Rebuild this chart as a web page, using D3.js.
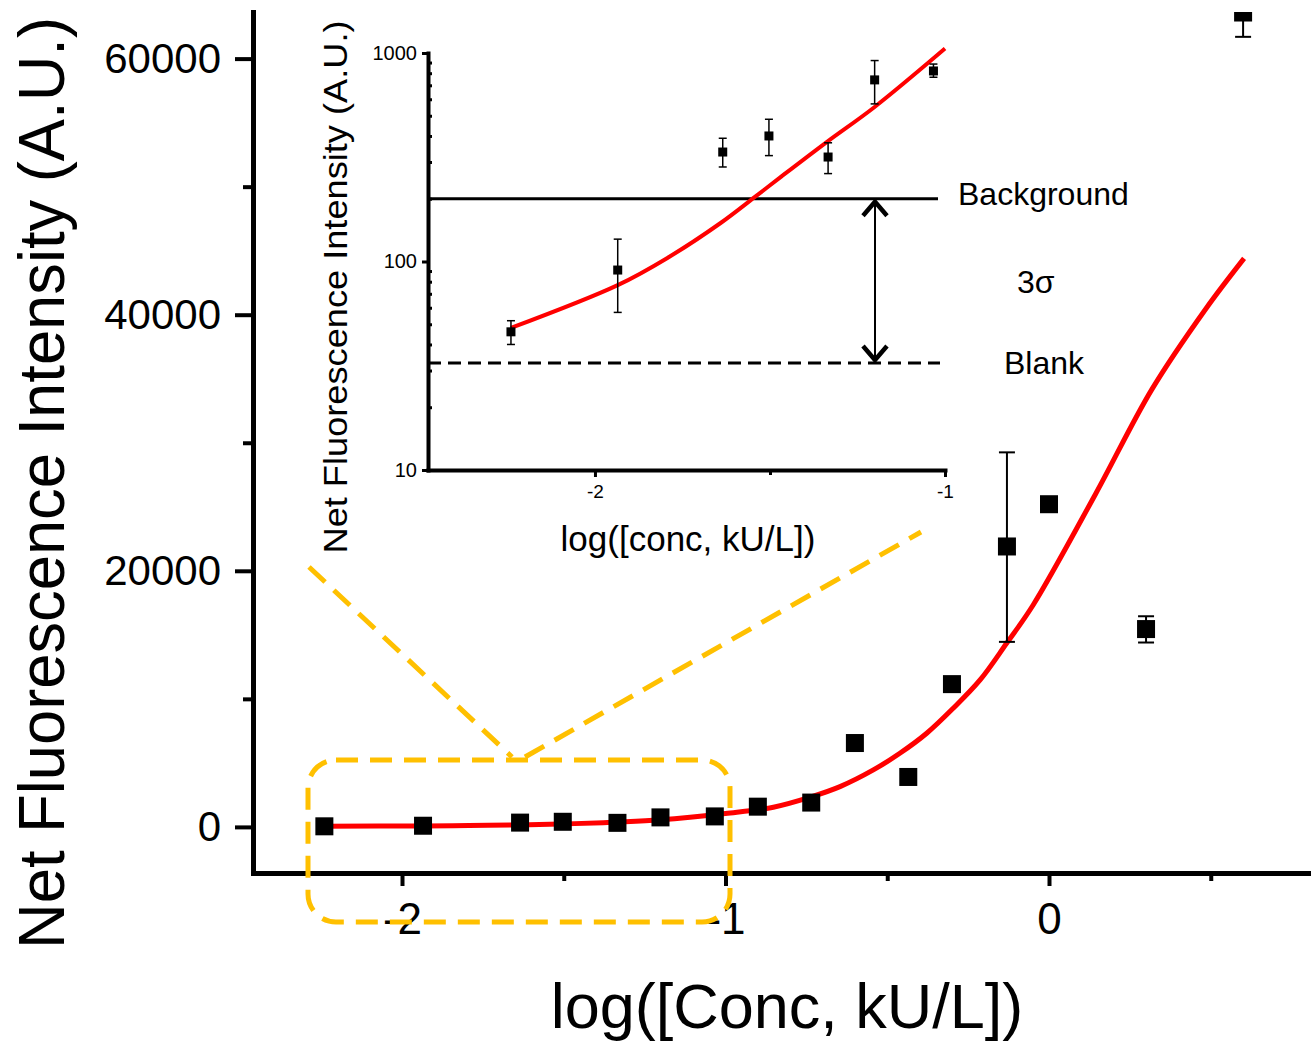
<!DOCTYPE html>
<html>
<head>
<meta charset="utf-8">
<script src="https://cdn.jsdelivr.net/npm/d3@7"></script>
<style>
  body { margin: 0; background: #fff; }
  svg { display: block; }
</style>
</head>
<body>
<svg id="chart" width="1311" height="1041"></svg>
<script>
// measured points, log(conc) vs net intensity
var concX = [-2.24, -1.935, -1.635, -1.503, -1.334, -1.201, -1.033, -0.90, -0.735, -0.60, -0.435, -0.30, -0.13, 0.0, 0.30, 0.60];
var intensity = [46, 91, 335, 400, 317, 743, 820, 1580, 1900, 6550, 3900, 11150, 21900, 25200, 15450, 63600];
var errLow = [40, 57, 284, 322, 264, 570, 765, 1430, 1750, 6350, 3700, 10850, 14450, 24900, 14400, 61700];
var errHigh = [52, 128, 390, 481, 371, 920, 885, 1730, 2050, 6750, 4100, 11450, 29250, 25500, 16450, 65500];
var insetCount = 7; // first points shown in the zoomed inset

// fitted curve
var fitX = [-2.24, -1.935, -1.793, -1.641, -1.543, -1.467, -1.337, -1.201, -1.0, -0.852, -0.733, -0.646, -0.543, -0.461, -0.378, -0.296, -0.213, -0.131, -0.049, 0.144, 0.318, 0.485, 0.603];
var fitY = [48, 77, 104, 153, 204, 256, 375, 551, 1050, 1540, 2365, 3146, 4450, 5750, 7315, 9270, 11480, 14340, 17330, 26000, 34170, 40470, 44400];

var mainXTicks = [-2, -1, 0];
var mainXMinor = [-1.5, -0.5, 0.5];
var mainYTicks = [0, 20000, 40000, 60000];
var mainYMinor = [10000, 30000, 50000];
var insetXTicks = [-2, -1];
var insetXMinor = [-1.5];
var insetYTicks = [10, 100, 1000];
var insetYMinor = [20, 30, 40, 50, 60, 70, 80, 90, 200, 300, 400, 500, 600, 700, 800, 900];

var refLevels = [200, 32.6];
var refLabels = ["Background", "Blank"];

var sans = "'Liberation Sans', Arial, sans-serif";
var narrow = "'Liberation Sans Narrow', 'Arial Narrow', 'Liberation Sans', Arial, sans-serif";

var svg = d3.select("#chart");
svg.append("rect").attr("width", 1311).attr("height", 1041).attr("fill", "#fff");

// ---------- main plot ----------
var x = d3.scaleLinear().domain([-2.4606, 0.8099]).range([253, 1311]);
var y = d3.scaleLinear().domain([-3600, 63640]).range([873, 12]);

svg.append("clipPath").attr("id", "mainclip")
    .append("rect").attr("x", 253).attr("y", 12).attr("width", 1058).attr("height", 861);

function styleAxis(g, lw, tw, fs) {
    g.select(".domain").attr("stroke-width", lw).attr("stroke-linecap", "square");
    g.selectAll(".tick line").attr("stroke-width", tw);
    g.selectAll(".tick text").attr("fill", "#000").attr("font-family", sans).attr("font-size", fs);
}

var xAxis = svg.append("g")
    .attr("transform", "translate(0,873)")
    .call(d3.axisBottom(x).tickValues(mainXTicks).tickSize(13).tickSizeOuter(0).tickPadding(17)
        .tickFormat(function (d) { return d.toString(); }));
styleAxis(xAxis, 5, 4, 44);

var xMinor = svg.append("g")
    .attr("transform", "translate(0,873)")
    .call(d3.axisBottom(x).tickValues(mainXMinor).tickSize(8).tickFormat(""));
xMinor.select(".domain").remove();
xMinor.selectAll(".tick line").attr("stroke-width", 4);

var yAxis = svg.append("g")
    .attr("transform", "translate(253,0)")
    .call(d3.axisLeft(y).tickValues(mainYTicks).tickSize(18).tickSizeOuter(0).tickPadding(14)
        .tickFormat(d3.format("d")));
styleAxis(yAxis, 5, 4, 42);

var yMinor = svg.append("g")
    .attr("transform", "translate(253,0)")
    .call(d3.axisLeft(y).tickValues(mainYMinor).tickSize(10).tickFormat(""));
yMinor.select(".domain").remove();
yMinor.selectAll(".tick line").attr("stroke-width", 4);

// axis titles
svg.append("text")
    .attr("transform", "translate(64,483) rotate(-90)")
    .attr("text-anchor", "middle")
    .attr("font-family", narrow)
    .attr("font-size", 64)
    .attr("textLength", 932)
    .attr("lengthAdjust", "spacingAndGlyphs")
    .text("Net Fluorescence Intensity (A.U.)");

svg.append("text")
    .attr("x", 787)
    .attr("y", 1028)
    .attr("text-anchor", "middle")
    .attr("font-family", sans)
    .attr("font-size", 63)
    .text("log([Conc, kU/L])");

var mainData = concX.map(function (c, i) {
    return {x: c, y: intensity[i], lo: errLow[i], hi: errHigh[i]};
});
var fitData = fitX.map(function (c, i) { return {x: c, y: fitY[i]}; });

var plot = svg.append("g").attr("clip-path", "url(#mainclip)");

var line = d3.line()
    .x(function (d) { return x(d.x); })
    .y(function (d) { return y(d.y); })
    .curve(d3.curveCatmullRom.alpha(0.5));

plot.append("path")
    .datum(fitData)
    .attr("fill", "none")
    .attr("stroke", "#ff0000")
    .attr("stroke-width", 5)
    .attr("d", line);

var eb = plot.append("g").attr("stroke", "#000").attr("stroke-width", 2)
    .selectAll("g").data(mainData).enter().append("g");
eb.append("line")
    .attr("x1", function (d) { return x(d.x); })
    .attr("x2", function (d) { return x(d.x); })
    .attr("y1", function (d) { return y(d.lo); })
    .attr("y2", function (d) { return y(d.hi); });
eb.append("line")
    .attr("x1", function (d) { return x(d.x) - 8; })
    .attr("x2", function (d) { return x(d.x) + 8; })
    .attr("y1", function (d) { return y(d.lo); })
    .attr("y2", function (d) { return y(d.lo); });
eb.append("line")
    .attr("x1", function (d) { return x(d.x) - 8; })
    .attr("x2", function (d) { return x(d.x) + 8; })
    .attr("y1", function (d) { return y(d.hi); })
    .attr("y2", function (d) { return y(d.hi); });

plot.selectAll(".pt")
    .data(mainData)
    .enter().append("rect")
    .attr("class", "pt")
    .attr("x", function (d) { return x(d.x) - 9; })
    .attr("y", function (d) { return y(d.y) - 9; })
    .attr("width", 18)
    .attr("height", 18)
    .attr("fill", "#000");

// ---------- zoom marker (dashed yellow) ----------
var zoomBox = svg.append("g")
    .attr("fill", "none")
    .attr("stroke", "#ffc000")
    .attr("stroke-width", 5)
    .attr("stroke-dasharray", "22,12");
zoomBox.append("rect")
    .attr("x", 308).attr("y", 760).attr("width", 422).attr("height", 162)
    .attr("rx", 28).attr("ry", 28);
zoomBox.append("line").attr("x1", 309).attr("y1", 567).attr("x2", 512).attr("y2", 757);
zoomBox.append("line").attr("x1", 525).attr("y1", 757).attr("x2", 921).attr("y2", 532);

// ---------- inset (log scale) ----------
var ix = d3.scaleLinear().domain([-2.477, -1]).range([428, 945]);
var iy = d3.scaleLog().domain([10, 1000]).range([470, 53]);

var ixAxis = svg.append("g")
    .attr("transform", "translate(0,470)")
    .call(d3.axisBottom(ix).tickValues(insetXTicks).tickSize(7).tickSizeOuter(0).tickPadding(8)
        .tickFormat(function (d) { return d.toString(); }));
styleAxis(ixAxis, 4, 3, 19);

var ixMinor = svg.append("g")
    .attr("transform", "translate(0,470)")
    .call(d3.axisBottom(ix).tickValues(insetXMinor).tickSize(5).tickFormat(""));
ixMinor.select(".domain").remove();
ixMinor.selectAll(".tick line").attr("stroke-width", 3);

var iyAxis = svg.append("g")
    .attr("transform", "translate(428,0)")
    .call(d3.axisLeft(iy).tickValues(insetYTicks).tickSize(6).tickSizeOuter(0).tickPadding(5)
        .tickFormat(d3.format("d")));
styleAxis(iyAxis, 4, 3, 20);

var iyMinor = svg.append("g")
    .attr("transform", "translate(428,0)")
    .call(d3.axisRight(iy).tickValues(insetYMinor).tickSize(4).tickFormat(""));
iyMinor.select(".domain").remove();
iyMinor.selectAll(".tick line").attr("stroke-width", 3);

svg.append("text")
    .attr("transform", "translate(347,287) rotate(-90)")
    .attr("text-anchor", "middle")
    .attr("font-family", narrow)
    .attr("font-size", 33)
    .attr("textLength", 533)
    .attr("lengthAdjust", "spacingAndGlyphs")
    .text("Net Fluorescence Intensity (A.U.)");

svg.append("text")
    .attr("x", 688)
    .attr("y", 551)
    .attr("text-anchor", "middle")
    .attr("font-family", sans)
    .attr("font-size", 35)
    .text("log([conc, kU/L])");

// background / blank levels
svg.append("line")
    .attr("x1", 428).attr("x2", 938)
    .attr("y1", iy(refLevels[0])).attr("y2", iy(refLevels[0]))
    .attr("stroke", "#000").attr("stroke-width", 3);
svg.append("line")
    .attr("x1", 428).attr("x2", 940)
    .attr("y1", iy(refLevels[1])).attr("y2", iy(refLevels[1]))
    .attr("stroke", "#000").attr("stroke-width", 3)
    .attr("stroke-dasharray", "13,7");

var ax = ix(-1.2), aTop = iy(refLevels[0]), aBot = iy(refLevels[1]);
var arrow = svg.append("g").attr("stroke", "#000").attr("fill", "none");
arrow.append("line")
    .attr("x1", ax).attr("x2", ax).attr("y1", aTop + 2).attr("y2", aBot - 2)
    .attr("stroke-width", 2);
arrow.append("path")
    .attr("d", "M" + (ax - 12) + "," + (aTop + 17) + "L" + ax + "," + (aTop + 3) + "L" + (ax + 12) + "," + (aTop + 17))
    .attr("stroke-width", 4.5);
arrow.append("path")
    .attr("d", "M" + (ax - 12) + "," + (aBot - 17) + "L" + ax + "," + (aBot - 3) + "L" + (ax + 12) + "," + (aBot - 17))
    .attr("stroke-width", 4.5);

var notes = svg.append("g").attr("font-family", sans).attr("font-size", 32).attr("fill", "#000");
notes.append("text").attr("x", 958).attr("y", iy(refLevels[0]) + 6).text(refLabels[0]);
notes.append("text").attr("x", 1017).attr("y", (aTop + aBot) / 2 + 12).text("3σ");
notes.append("text").attr("x", 1004).attr("y", iy(refLevels[1]) + 11).text(refLabels[1]);

var insetData = mainData.slice(0, insetCount);
var insetFit = fitData.filter(function (d) { return d.x <= -1; });

svg.append("path")
    .datum(insetFit)
    .attr("fill", "none")
    .attr("stroke", "#ff0000")
    .attr("stroke-width", 4)
    .attr("d", d3.line()
        .x(function (d) { return ix(d.x); })
        .y(function (d) { return iy(d.y); })
        .curve(d3.curveCatmullRom.alpha(0.5)));

var ieb = svg.append("g").attr("stroke", "#000").attr("stroke-width", 1.5)
    .selectAll("g").data(insetData).enter().append("g");
ieb.append("line")
    .attr("x1", function (d) { return ix(d.x); })
    .attr("x2", function (d) { return ix(d.x); })
    .attr("y1", function (d) { return iy(d.lo); })
    .attr("y2", function (d) { return iy(d.hi); });
ieb.append("line")
    .attr("x1", function (d) { return ix(d.x) - 4; })
    .attr("x2", function (d) { return ix(d.x) + 4; })
    .attr("y1", function (d) { return iy(d.lo); })
    .attr("y2", function (d) { return iy(d.lo); });
ieb.append("line")
    .attr("x1", function (d) { return ix(d.x) - 4; })
    .attr("x2", function (d) { return ix(d.x) + 4; })
    .attr("y1", function (d) { return iy(d.hi); })
    .attr("y2", function (d) { return iy(d.hi); });

svg.selectAll(".ipt")
    .data(insetData)
    .enter().append("rect")
    .attr("class", "ipt")
    .attr("x", function (d) { return ix(d.x) - 4.5; })
    .attr("y", function (d) { return iy(d.y) - 4.5; })
    .attr("width", 9)
    .attr("height", 9)
    .attr("fill", "#000");
</script>
</body>
</html>
